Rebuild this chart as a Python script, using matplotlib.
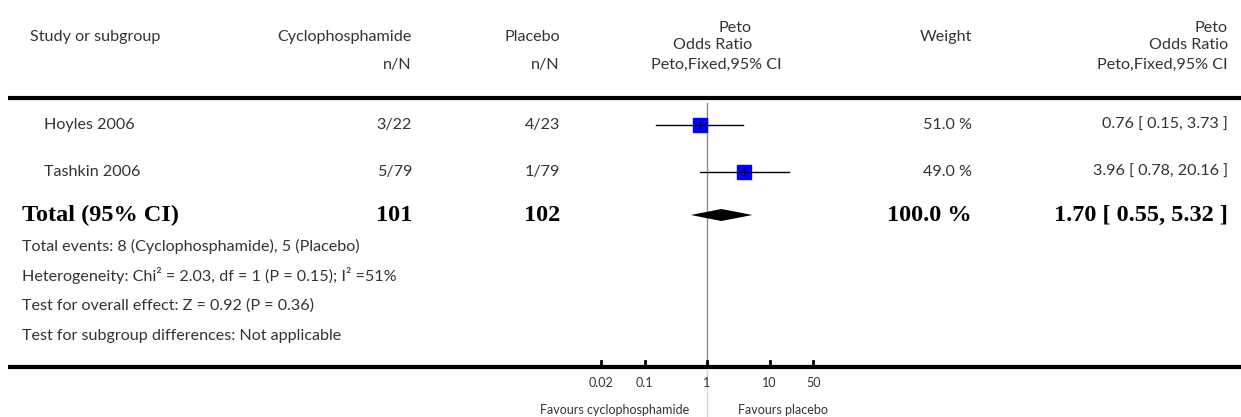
import matplotlib

matplotlib.use('Agg')
import matplotlib.pyplot as plt
import numpy as np

# data
studies = ['Hoyles 2006', 'Tashkin 2006']
cyc_nN = ['3/22', '5/79']
pla_nN = ['4/23', '1/79']
odds_ratio = [0.76, 3.96]
ci_low = [0.15, 0.78]
ci_high = [3.73, 20.16]
weights = [51.0, 49.0]

total_cyc = 101
total_pla = 102
total_or = 1.70
total_low = 0.55
total_high = 5.32

footer_lines = [
    'Total events: 8 (Cyclophosphamide), 5 (Placebo)',
    'Heterogeneity: Chi\u00b2 = 2.03, df = 1 (P = 0.15); I\u00b2 =51%',
    'Test for overall effect: Z = 0.92 (P = 0.36)',
    'Test for subgroup differences: Not applicable',
]
tick_values = [0.02, 0.1, 1, 10, 50]
tick_labels = ['0.02', '0.1', '1', '10', '50']

W, H = 1241, 417
SANS = ['Lato', 'DejaVu Sans']
SERIF = 'Liberation Serif'
TXT = '#333333'
fs = 11.6

fig = plt.figure(figsize=(W / 100, H / 100), dpi=100)
bg = fig.add_axes([0, 0, 1, 1])
bg.set_xlim(0, W)
bg.set_ylim(H, 0)
bg.set_axis_off()


def txt(x, y, s, ha='left', **kw):
    kw.setdefault('family', SANS)
    kw.setdefault('fontsize', fs)
    kw.setdefault('color', TXT)
    bg.text(x, y, s, ha=ha, va='center', **kw)


# header
txt(30, 37, 'Study or subgroup')
txt(412, 37, 'Cyclophosphamide', ha='right')
txt(560, 37, 'Placebo', ha='right')
txt(752, 28, 'Peto', ha='right')
txt(752, 45, 'Odds Ratio', ha='right')
txt(972, 37, 'Weight', ha='right')
txt(1228, 28, 'Peto', ha='right')
txt(1228, 45, 'Odds Ratio', ha='right')
txt(412, 65, 'n/N', ha='right')
txt(560, 65, 'n/N', ha='right')
txt(716, 65, 'Peto,Fixed,95% CI', ha='center')
txt(1228, 65, 'Peto,Fixed,95% CI', ha='right')
bg.plot([8, W], [98, 98], color='black', lw=3, solid_capstyle='butt')

row_y = [125, 172]
for i, name in enumerate(studies):
    y = row_y[i]
    txt(44, y, name)
    txt(412, y, cyc_nN[i], ha='right')
    txt(560, y, pla_nN[i], ha='right')
    txt(972, y, f'{weights[i]:.1f} %', ha='right')
    txt(1228, y, f'{odds_ratio[i]:.2f} [ {ci_low[i]:.2f}, {ci_high[i]:.2f} ]', ha='right')

ty = 215
bold = dict(family=SERIF, fontweight='bold', fontsize=17.5, color='black')
txt(22, ty, 'Total (95% CI)', **bold)
txt(412, ty, str(total_cyc), ha='right', **bold)
txt(560, ty, str(total_pla), ha='right', **bold)
txt(972, ty, '100.0 %', ha='right', **bold)
txt(1228, ty, f'{total_or:.2f} [ {total_low:.2f}, {total_high:.2f} ]', ha='right', **bold)

for k, line in enumerate(footer_lines):
    txt(22, 246 + 30 * k, line)

# bottom axis line
bg.plot([8, W], [367, 367], color='black', lw=3, solid_capstyle='butt')

# forest panel: log scale, 1 at x=707 px, 62.5 px per decade
x0, x1 = 707 - 2 * 62.5, 707 + 2 * 62.5
fx = fig.add_axes([x0 / W, 0, (x1 - x0) / W, 1])
fx.set_xscale('log')
fx.set_xlim(0.01, 100)
fx.set_ylim(H, 0)
fx.set_axis_off()
fx.patch.set_alpha(0)

fx.plot([1, 1], [103, 367], color='#8c8c8c', lw=1)
fx.plot([1, 1], [367, H], color='#d8d8d8', lw=1)

for i in range(len(studies)):
    y = row_y[i]
    fx.plot(odds_ratio[i], y, marker='s', ms=10, color='#0000ff', mec='#0000ff', zorder=2)
    fx.plot([ci_low[i], ci_high[i]], [y, y], color='black', lw=1, zorder=3)
    fx.plot([odds_ratio[i], odds_ratio[i]], [y - 3, y + 3], color='black', lw=0.8, zorder=3)

dx = [total_low, total_or, total_high, total_or]
dy = [ty, ty - 6, ty, ty + 6]
fx.fill(dx, dy, color='black', lw=0, zorder=3)

small = dict(va='center', family=SANS, fontsize=9, color=TXT)
for v, lab in zip(tick_values, tick_labels):
    fx.plot([v, v], [361, 367], color='black', lw=2)
    fx.text(v, 383, lab, ha='center', **small)

fx.text(0.515, 410, 'Favours cyclophosphamide', ha='right', **small)
fx.text(3.13, 410, 'Favours placebo', ha='left', **small)

fig.savefig('out.png', dpi=100)
